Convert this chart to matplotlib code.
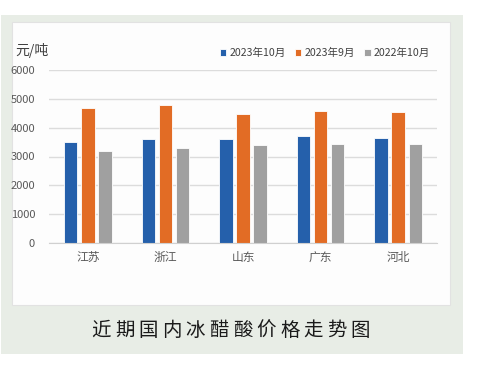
import numpy as np
import matplotlib.pyplot as plt
from matplotlib.patches import Rectangle

plt.rcParams['font.family'] = ['Noto Sans CJK SC', 'DejaVu Sans']

regions = ["江苏", "浙江", "山东", "广东", "河北"]
oct_2023 = [3500, 3600, 3600, 3700, 3630]
sep_2023 = [4670, 4780, 4480, 4580, 4530]
oct_2022 = [3200, 3300, 3400, 3420, 3420]

SERIES = [
    ("2023年10月", oct_2023, "#2560AB"),
    ("2023年9月", sep_2023, "#E26C25"),
    ("2022年10月", oct_2022, "#A0A0A0"),
]

CAPTION = "近期国内冰醋酸价格走势图"

W, H = 483, 369
fig = plt.figure(figsize=(W / 100, H / 100), dpi=100)
fig.patch.set_facecolor("white")

# outer tinted frame and white chart panel (behind the axes)
fig.patches.append(Rectangle((1 / W, 1 - 354 / H), 462 / W, 339 / H,
                             transform=fig.transFigure, facecolor="#E8EDE6", edgecolor="none", zorder=-2))
fig.patches.append(Rectangle((12 / W, 1 - 305 / H), 438 / W, 283 / H,
                             transform=fig.transFigure, facecolor="#FDFDFD", edgecolor="#E2E2E2", lw=0.8, zorder=-1))

ax = fig.add_axes([49 / W, 1 - 243 / H, 388 / W, 173 / H])
ax.set_facecolor("none")
ax.set_zorder(1)

x = np.arange(len(regions))
width = 0.174
step = 0.22
for i, (label, vals, color) in enumerate(SERIES):
    ax.bar(x + (i - 1) * step, vals, width, color=color, edgecolor="white", linewidth=0.6,
           label=label, zorder=3)

ax.set_xlim(-0.5, len(regions) - 0.5)
ax.set_ylim(0, 6000)
ax.set_yticks(range(0, 6001, 1000))
ax.set_xticks(x)
ax.set_xticklabels(regions)
ax.tick_params(axis="both", length=0, colors="#595959", labelsize=8)
ax.tick_params(axis="x", pad=6, labelsize=8.5)
ax.tick_params(axis="y", pad=10)
ax.grid(axis="y", color="#DCDCDC", linewidth=1, zorder=0)
for s in ["top", "right", "left"]:
    ax.spines[s].set_visible(False)
ax.spines["bottom"].set_color("#D0D0D0")
ax.spines["bottom"].set_zorder(4)

fig.text(15 / W, 1 - 50 / H, "元/吨", fontsize=10, color="#404040", va="center", ha="left")

ax.legend(loc="center", bbox_to_anchor=(325 / W, 1 - 53 / H), bbox_transform=fig.transFigure,
          ncol=3, frameon=False, fontsize=7.6, handlelength=0.6, handleheight=0.6,
          handletextpad=0.3, columnspacing=0.9, labelcolor="#404040")

# caption, spread out character by character
for k, ch in enumerate(CAPTION):
    fig.text((101 + k * 23.6) / W, 1 - 330 / H, ch, fontsize=14, color="#1A1A1A",
             ha="center", va="center")

fig.savefig("out.png", dpi=100)
